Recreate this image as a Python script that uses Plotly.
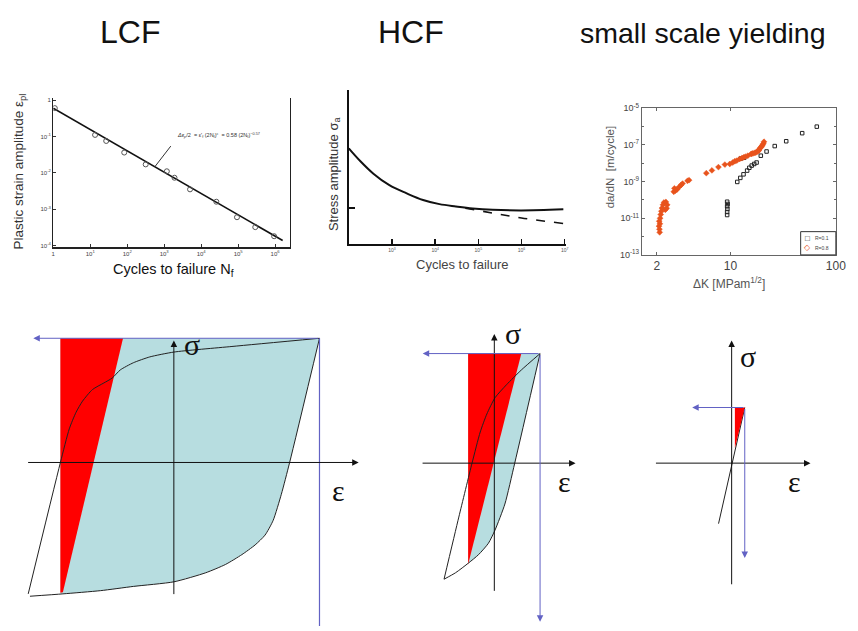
import plotly.graph_objects as go

W, H = 858, 631
def fx(p): return p / W
def fy(p): return 1 - p / H

SANS = "Liberation Sans, Arial, sans-serif"
SERIF = "Liberation Serif, Times New Roman, serif"
BLUE = "#6262c4"
CYAN = "#b7dde0"
RED = "#ff0000"
ORANGE = "#e8531c"

# ---------------- LCF (Coffin-Manson) ----------------
lcf_cycles = [1.1, 13.5, 27, 83, 316, 1180, 1900, 5000, 25700, 93000, 2.9e5, 9.4e5]
lcf_strain = [0.6, 0.11, 0.075, 0.036, 0.017, 0.011, 0.0073, 0.0035, 0.0016, 6e-4, 3.2e-4, 1.8e-4]
lcf_fit_cycles = [1, 1.6e6]
lcf_fit_strain = [0.6, 1.37e-4]
lcf_xticks = [1, 1e1, 1e2, 1e3, 1e4, 1e5, 1e6]
lcf_xtext = ["1", "10<sup>1</sup>", "10<sup>2</sup>", "10<sup>3</sup>", "10<sup>4</sup>", "10<sup>5</sup>", "10<sup>6</sup>"]
lcf_yticks = [1, 1e-1, 1e-2, 1e-3, 1e-4]
lcf_ytext = ["1", "10<sup>-1</sup>", "10<sup>-2</sup>", "10<sup>-3</sup>", "10<sup>-4</sup>"]

# ---------------- HCF (S-N curve) ----------------
hcf_cycles = [100, 186, 372, 871, 2190, 5250, 12600, 30200, 74100, 214000, 1e6, 9.3e6]
hcf_stress = [62.3, 53.9, 45.8, 38.3, 33.0, 28.7, 26.0, 24.5, 23.2, 22.3, 21.9, 22.6]
hcf_dash_cycles = [50000, 214000, 1e6, 9.3e6]
hcf_dash_stress = [23.4, 20.2, 17.0, 13.4]
hcf_xticks = [1e3, 1e4, 1e5, 1e6, 1e7]
hcf_xtext = ["10<sup>3</sup>", "10<sup>4</sup>", "10<sup>5</sup>", "10<sup>6</sup>", "10<sup>7</sup>"]
hcf_ytick = [23.4]

# ---------------- Small scale yielding (da/dN) ----------------
r01_points = [(9.3, 8e-11), (9.4, 6e-11), (9.3, 4.5e-11), (9.35, 3.2e-11), (9.3, 2.2e-11), (9.3, 1.5e-11),
              (11.6, 9.6e-10), (12.4, 1.6e-9), (13.3, 2.5e-9), (14.4, 4.0e-9), (15.1, 5.7e-9), (15.9, 7.5e-9),
              (16.8, 9.2e-9), (17.7, 1.1e-8), (12.5, 1.8e-8), (13.5, 2.0e-8), (19.4, 2.6e-8), (22.0, 4.4e-8),
              (26.3, 8.7e-8), (33.8, 1.6e-7), (47.9, 4.4e-7), (65.9, 1.0e-6)]
r08_points = [(2.13, 1.7e-12), (2.12, 2.5e-12), (2.10, 3.7e-12), (2.14, 5e-12), (2.11, 6.9e-12), (2.15, 1.0e-11),
              (2.18, 1.6e-11), (2.21, 2.4e-11), (2.24, 3.6e-11), (2.29, 5.4e-11), (2.34, 7.2e-11), (2.44, 7.8e-11),
              (2.51, 5.4e-11), (2.41, 2.9e-11), (2.48, 3.5e-11), (2.90, 2.8e-10), (2.94, 4.3e-10), (3.0, 3.2e-10),
              (3.11, 3.7e-10), (3.27, 5.2e-10), (3.4, 6.5e-10), (3.51, 7.8e-10), (3.91, 1.1e-9), (4.05, 1.2e-9),
              (5.90, 2.9e-9), (6.67, 4.1e-9), (7.69, 6.2e-9), (8.85, 8.5e-9), (9.85, 9.2e-9), (10.5, 1.1e-8),
              (11.0, 1.3e-8), (11.5, 1.4e-8), (12.2, 1.7e-8), (12.8, 1.9e-8), (13.3, 2.1e-8), (13.8, 2.3e-8),
              (14.6, 2.6e-8), (15.7, 3.2e-8), (16.0, 3.4e-8), (16.4, 3.5e-8), (17.0, 3.7e-8), (17.4, 3.9e-8),
              (18.0, 4.4e-8), (18.5, 4.8e-8), (18.7, 5.5e-8), (19.0, 6.6e-8), (19.5, 7.5e-8), (19.8, 8.7e-8),
              (20.2, 1.0e-7), (20.5, 1.2e-7), (20.8, 1.5e-7)]
r01_dk = [p[0] for p in r01_points]
r01_rate = [p[1] for p in r01_points]
r08_dk = [p[0] for p in r08_points]
r08_rate = [p[1] for p in r08_points]
ssy_xticks = [2, 10, 100]
ssy_xtext = ["2", "10", "100"]
ssy_yticks = [1e-13, 1e-11, 1e-9, 1e-7, 1e-5]
ssy_ytext = ["10<sup>-13</sup>", "10<sup>-11</sup>", "10<sup>-9</sup>", "10<sup>-7</sup>", "10<sup>-5</sup>"]
ssy_yminor = [1e-12, 1e-10, 1e-8, 1e-6]
legend_labels = ["R=0.1", "R=0.8"]

# ---------------- Hysteresis loops (normalised strain / stress) ----------------
lcf_load_eps = [-1.0, -0.779, -0.718, -0.672, -0.627, -0.559, -0.481, -0.424, -0.368, -0.278, -0.165, 0.0, 0.399, 1.0]
lcf_load_sig = [-1.058, 0.0, 0.271, 0.403, 0.494, 0.587, 0.640, 0.679, 0.745, 0.803, 0.850, 0.889, 0.934, 1.0]
lcf_unl_eps = [1.0, 0.795, 0.738, 0.682, 0.626, 0.558, 0.467, 0.355, 0.219, 0.0, -0.278, -0.503, -0.762, -0.988]
lcf_unl_sig = [1.0, 0.0, -0.256, -0.466, -0.585, -0.664, -0.742, -0.821, -0.888, -0.961, -0.998, -1.032, -1.058, -1.077]
lcf_red_eps = [-0.779, -0.349, -0.762, -0.779]
lcf_red_sig = [1.0, 1.0, -1.045, -1.05]
lcf_plastic_left = -0.779

hcf_load_eps = [-1.099, -0.776, -0.487, -0.308, -0.164, 0.015, 0.267, 0.59, 1.0]
hcf_load_sig = [-1.059, -0.492, 0.0, 0.284, 0.448, 0.597, 0.716, 0.850, 1.0]
hcf_unl_eps = [1.0, 0.446, 0.231, 0.015, -0.129, -0.345, -0.560, -0.847, -1.099]
hcf_unl_sig = [1.0, 0.0, -0.373, -0.611, -0.731, -0.835, -0.910, -1.0, -1.059]
hcf_red_eps = [-0.573, 0.59, -0.573]
hcf_red_sig = [1.0, 1.0, -0.925]
hcf_plastic_left = -0.573

ssy_line_eps = [-1.0, 1.0]
ssy_line_sig = [-1.088, 1.0]
ssy_red_eps = [0.248, 1.0, 0.248]
ssy_red_sig = [1.0, 1.0, 0.27]

fig = go.Figure()

# ---- LCF top ----
fig.add_trace(go.Scatter(x=lcf_fit_cycles, y=lcf_fit_strain, mode="lines",
                         line=dict(color="#111", width=1.6), xaxis="x", yaxis="y"))
fig.add_trace(go.Scatter(x=lcf_cycles, y=lcf_strain, mode="markers",
                         marker=dict(symbol="circle-open", size=5, color="#555", line=dict(width=1)),
                         xaxis="x", yaxis="y"))

# ---- HCF top ----
fig.add_trace(go.Scatter(x=hcf_cycles, y=hcf_stress, mode="lines", line=dict(color="#111", width=2, shape="spline"),
                         xaxis="x2", yaxis="y2"))
fig.add_trace(go.Scatter(x=hcf_dash_cycles, y=hcf_dash_stress, mode="lines",
                         line=dict(color="#111", width=1.6, dash="dash", shape="spline"),
                         xaxis="x2", yaxis="y2"))

# ---- da/dN ----
fig.add_trace(go.Scatter(x=r01_dk, y=r01_rate, mode="markers", name=legend_labels[0],
                         marker=dict(symbol="square-open", size=3.5, color="#222", line=dict(width=1)),
                         xaxis="x3", yaxis="y3"))
fig.add_trace(go.Scatter(x=r08_dk, y=r08_rate, mode="markers", name=legend_labels[1],
                         marker=dict(symbol="diamond", size=4.5, color=ORANGE, line=dict(width=0.5, color=ORANGE)),
                         xaxis="x3", yaxis="y3"))

# ---- bottom: LCF loop ----
cy_e = [lcf_plastic_left] + lcf_unl_eps[:-1] + [lcf_plastic_left]
cy_s = [1.0] + lcf_unl_sig[:-1] + [lcf_unl_sig[-2]]
fig.add_trace(go.Scatter(x=cy_e, y=cy_s, mode="lines", fill="toself", fillcolor=CYAN,
                         line=dict(width=0, color=CYAN), xaxis="x4", yaxis="y4"))
fig.add_trace(go.Scatter(x=lcf_red_eps, y=lcf_red_sig, mode="lines", fill="toself", fillcolor=RED,
                         line=dict(width=0, color=RED), xaxis="x4", yaxis="y4"))
fig.add_trace(go.Scatter(x=lcf_load_eps, y=lcf_load_sig, mode="lines", line=dict(color="#222", width=1, shape="spline", smoothing=0.6),
                         xaxis="x4", yaxis="y4"))
fig.add_trace(go.Scatter(x=lcf_unl_eps, y=lcf_unl_sig, mode="lines", line=dict(color="#222", width=1, shape="spline", smoothing=0.6),
                         xaxis="x4", yaxis="y4"))
fig.add_trace(go.Scatter(x=[1.0, 1.0], y=[1.0, -1.4], mode="lines", line=dict(color=BLUE, width=1.2),
                         xaxis="x4", yaxis="y4"))

# ---- bottom: HCF loop ----
cy_e = [hcf_plastic_left] + hcf_unl_eps[:-2] + [hcf_plastic_left]
cy_s = [1.0] + hcf_unl_sig[:-2] + [-0.905]
fig.add_trace(go.Scatter(x=cy_e, y=cy_s, mode="lines", fill="toself", fillcolor=CYAN,
                         line=dict(width=0, color=CYAN), xaxis="x5", yaxis="y5"))
fig.add_trace(go.Scatter(x=hcf_red_eps, y=hcf_red_sig, mode="lines", fill="toself", fillcolor=RED,
                         line=dict(width=0, color=RED), xaxis="x5", yaxis="y5"))
fig.add_trace(go.Scatter(x=hcf_load_eps, y=hcf_load_sig, mode="lines", line=dict(color="#222", width=1, shape="spline", smoothing=0.6),
                         xaxis="x5", yaxis="y5"))
fig.add_trace(go.Scatter(x=hcf_unl_eps, y=hcf_unl_sig, mode="lines", line=dict(color="#222", width=1, shape="spline", smoothing=0.6),
                         xaxis="x5", yaxis="y5"))

# ---- bottom: SSY ----
fig.add_trace(go.Scatter(x=ssy_line_eps, y=ssy_line_sig, mode="lines", line=dict(color="#222", width=1),
                         xaxis="x6", yaxis="y6"))
fig.add_trace(go.Scatter(x=ssy_red_eps, y=ssy_red_sig, mode="lines", fill="toself", fillcolor=RED,
                         line=dict(width=0, color=RED), xaxis="x6", yaxis="y6"))

tickfont_small = dict(family=SANS, size=6, color="#444")

layout = dict(
    width=W, height=H, margin=dict(l=0, r=0, t=0, b=0, pad=0),
    paper_bgcolor="white", plot_bgcolor="rgba(0,0,0,0)",
    font=dict(family=SANS), showlegend=False, hovermode=False,
    xaxis=dict(type="log", domain=[fx(52), fx(292)], range=[0, 6.4], showline=True, linecolor="#222", linewidth=1.2,
               tickvals=lcf_xticks, ticktext=lcf_xtext, ticks="inside", ticklen=3, tickcolor="#333",
               tickfont=tickfont_small, showgrid=False, zeroline=False, anchor="y"),
    yaxis=dict(type="log", domain=[fy(245), fy(93)], range=[-4.05, 0.05], showline=True, linecolor="#222", linewidth=1.2,
               mirror=True, tickvals=lcf_yticks, ticktext=lcf_ytext, ticks="inside", ticklen=3, tickcolor="#333",
               tickfont=tickfont_small, showgrid=False, zeroline=False, anchor="x"),
    xaxis2=dict(type="log", domain=[fx(351.7), fx(572)], range=[2, 7.03], showline=True, linecolor="#111", linewidth=1.5,
                tickvals=hcf_xticks, ticktext=hcf_xtext, ticks="inside", ticklen=5, tickwidth=1.5, tickcolor="#111",
                tickfont=dict(family=SANS, size=5, color="#555"), showgrid=False, zeroline=False, anchor="y2"),
    yaxis2=dict(domain=[fy(241.7), fy(85)], range=[0, 100], showline=True, linecolor="#111", linewidth=1.5,
                tickvals=hcf_ytick, ticktext=[""], ticks="inside", ticklen=6, tickwidth=1.5, tickcolor="#111",
                showgrid=False, zeroline=False, anchor="x2"),
    xaxis3=dict(type="log", domain=[fx(649), fx(845.7)], range=[0.16, 2.0], showline=True, linecolor="#666", linewidth=1,
                mirror="ticks", tickvals=ssy_xticks, ticktext=ssy_xtext, ticks="inside", ticklen=3, tickcolor="#666",
                tickfont=dict(family=SANS, size=12, color="#444"), showgrid=False, zeroline=False, anchor="y3"),
    yaxis3=dict(type="log", domain=[fy(252.7), fy(103.3)], range=[-13, -5], showline=True, linecolor="#666", linewidth=1,
                mirror="ticks", tickvals=ssy_yticks, ticktext=ssy_ytext, ticks="inside", ticklen=3, tickcolor="#666",
                minor=dict(tickvals=ssy_yminor, ticks="inside", ticklen=2, tickcolor="#666"),
                tickfont=dict(family=SANS, size=9, color="#444"), showgrid=False, zeroline=False, anchor="x3"),
    xaxis4=dict(domain=[fx(0), fx(380)], range=[-1.180, 1.3927], visible=False, anchor="y4"),
    yaxis4=dict(domain=[fy(631), fy(320)], range=[-1.3167, 1.1398], visible=False, anchor="x4"),
    xaxis5=dict(domain=[fx(400), fx(600)], range=[-2.140, 2.170], visible=False, anchor="y5"),
    yaxis5=dict(domain=[fy(631), fy(320)], range=[-1.486, 1.298], visible=False, anchor="x5"),
    xaxis6=dict(domain=[fx(650), fx(850)], range=[-6.767, 8.271], visible=False, anchor="y6"),
    yaxis6=dict(domain=[fy(631), fy(320)], range=[-2.928, 2.557], visible=False, anchor="x6"),
    shapes=[dict(type="rect", xref="paper", yref="paper", x0=fx(810), x1=fx(845.7), y0=fy(252.7), y1=fy(229),
                 line=dict(color="#333", width=1), fillcolor="white", layer="above")],
)
fig.update_layout(**layout)

ann = []
def text(x, y, t, size, color="#111", family=SANS, angle=0, xref="paper", yref="paper", **kw):
    d = dict(x=x, y=y, xref=xref, yref=yref, text=t, showarrow=False, textangle=angle,
             font=dict(family=family, size=size, color=color), xanchor="center", yanchor="middle")
    d.update(kw)
    ann.append(d)

def arrow(x0, y0, x1, y1, ax_, color, head=2):
    ann.append(dict(x=x1, y=y1, ax=x0, ay=y0, xref="x" + ax_, yref="y" + ax_, axref="x" + ax_, ayref="y" + ax_,
                    text="", showarrow=True, arrowhead=head, arrowsize=1.3, arrowwidth=1, arrowcolor=color,
                    standoff=0, startstandoff=0))

# titles
text(fx(130), fy(25), "LCF", 32)
text(fx(415), fy(25), "HCF", 32)
text(fx(711), fy(27), "small scale yielding", 28.5)

# LCF axis titles + equation
text(fx(18), fy(168), "Plastic strain amplitude ε<sub>pl</sub>", 13.5, color="#333", angle=-90)
text(fx(174), fy(268), "Cycles to failure N<sub>f</sub>", 14.5, color="#111")
text(fx(175), fy(131), "<i>Δε<sub>p</sub></i>/2  = ε'<sub>f</sub> (2N<sub>f</sub>)<sup>c</sup>  = 0.58 (2N<sub>f</sub>)<sup>−0.57</sup>",
     5.5, color="#333", xanchor="left")
ann.append(dict(x=2.75, y=-1.83, xref="x", yref="y", ax=17, ay=-22, text="", showarrow=True,
                arrowhead=0, arrowwidth=1, arrowcolor="#333"))

# HCF axis titles
text(fx(337), fy(170), "Stress amplitude σ<sub>a</sub>", 13, color="#333", angle=-90)
text(fx(467), fy(263), "Cycles to failure", 13, color="#444")

# da/dN axis titles + legend
text(fx(617), fy(163), "da/dN  [m/cycle]", 11.5, color="#555", angle=-90)
text(fx(737), fy(281), "ΔK [MPam<sup>1/2</sup>]", 12, color="#555")
text(fx(817), fy(235.5), "□", 8, color="#222")
text(fx(817), fy(245.5), "◇", 8, color=ORANGE)
text(fx(822), fy(235.5), legend_labels[0], 5, color="#444", xanchor="left")
text(fx(822), fy(245.5), legend_labels[1], 5, color="#444", xanchor="left")

# bottom LCF panel
arrow(-1.011, 0, 1.269, 0, "4", "#111")
arrow(0, -1.072, 0, 0.982, "4", "#111")
arrow(1.0, 1.0, -0.965, 1.0, "4", BLUE)
text(0.122, 0.948, "σ", 30, family=SERIF, xref="x4", yref="y4")
text(1.133, -0.229, "ε", 30, family=SERIF, xref="x4", yref="y4")

# bottom HCF panel
arrow(-1.601, 0, 1.776, 0, "5", "#111")
arrow(0, -1.179, 0, 1.179, "5", "#111")
arrow(1.0, 1.0, -1.565, 1.0, "5", BLUE)
arrow(1.0, 1.0, 1.0, -1.448, "5", BLUE)
text(0.409, 1.182, "σ", 30, family=SERIF, xref="x5", yref="y5")
text(1.524, -0.164, "ε", 30, family=SERIF, xref="x5", yref="y5")

# bottom SSY panel
arrow(-5.887, 0, 6.015, 0, "6", "#111")
arrow(0, -2.205, 0, 2.205, "6", "#111")
arrow(1.0, 1.0, -3.008, 1.0, "6", BLUE)
arrow(1.0, 1.0, 1.0, -1.705, "6", BLUE)
text(1.256, 1.91, "σ", 30, family=SERIF, xref="x6", yref="y6")
text(4.76, -0.323, "ε", 30, family=SERIF, xref="x6", yref="y6")

fig.update_layout(annotations=ann)
fig.write_html("out.html", config={"displayModeBar": False, "staticPlot": True},
               post_script="document.body.style.margin='0px';document.body.style.padding='0px';")
